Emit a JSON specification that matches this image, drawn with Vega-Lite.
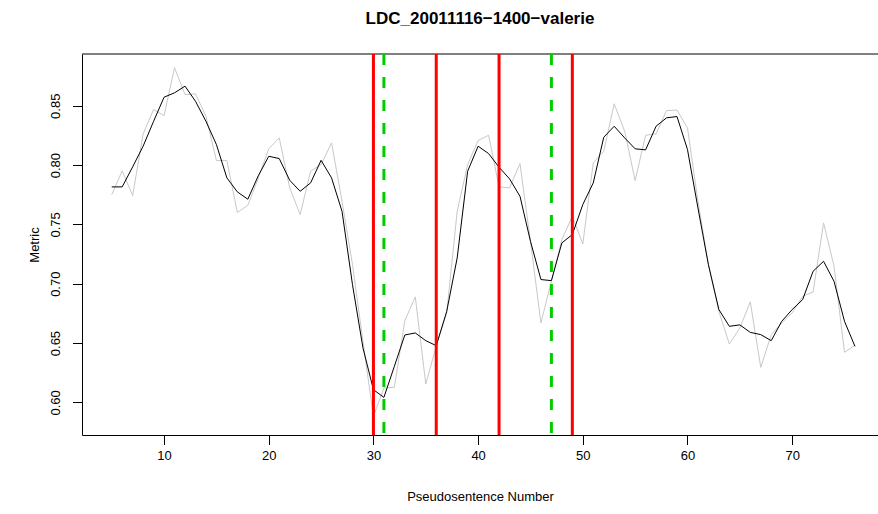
{
  "$schema": "https://vega.github.io/schema/vega-lite/v6.json",
  "width": 796,
  "height": 381,
  "autosize": "none",
  "padding": {"left": 82, "top": 54, "right": 0, "bottom": 79},
  "background": "white",
  "config": {
    "view": {"stroke": null},
    "font": "Liberation Sans",
    "axis": {"grid": false, "domainColor": "black", "tickColor": "black", "labelColor": "black", "titleColor": "black", "labelFont": "Liberation Sans", "titleFont": "Liberation Sans", "labelFontSize": 13, "titleFontSize": 13, "titleFontWeight": "normal", "tickSize": 9.5, "domainWidth": 1, "tickWidth": 1}
  },
  "title": {"text": "LDC_20011116−1400−valerie", "fontSize": 17, "fontWeight": "bold", "font": "Liberation Sans", "color": "black", "anchor": "middle", "baseline": "alphabetic", "offset": 12},
  "layer": [
    {
      "data": {"name": "series", "values": [
        {"n":5,"raw":0.7751,"smooth":0.7816},
        {"n":6,"raw":0.7951,"smooth":0.7816},
        {"n":7,"raw":0.7743,"smooth":0.7985},
        {"n":8,"raw":0.8263,"smooth":0.8159},
        {"n":9,"raw":0.8468,"smooth":0.8369},
        {"n":10,"raw":0.8417,"smooth":0.8572},
        {"n":11,"raw":0.8820,"smooth":0.8609},
        {"n":12,"raw":0.8594,"smooth":0.8665},
        {"n":13,"raw":0.8600,"smooth":0.8538},
        {"n":14,"raw":0.8412,"smooth":0.8369},
        {"n":15,"raw":0.8038,"smooth":0.8173},
        {"n":16,"raw":0.8038,"smooth":0.7892},
        {"n":17,"raw":0.7600,"smooth":0.7774},
        {"n":18,"raw":0.7661,"smooth":0.7712},
        {"n":19,"raw":0.7890,"smooth":0.7910},
        {"n":20,"raw":0.8137,"smooth":0.8074},
        {"n":21,"raw":0.8229,"smooth":0.8055},
        {"n":22,"raw":0.7808,"smooth":0.7872},
        {"n":23,"raw":0.7583,"smooth":0.7779},
        {"n":24,"raw":0.7948,"smooth":0.7850},
        {"n":25,"raw":0.8004,"smooth":0.8040},
        {"n":26,"raw":0.8187,"smooth":0.7892},
        {"n":27,"raw":0.7695,"smooth":0.7610},
        {"n":28,"raw":0.7161,"smooth":0.6992},
        {"n":29,"raw":0.6514,"smooth":0.6459},
        {"n":30,"raw":0.5882,"smooth":0.6107},
        {"n":31,"raw":0.6121,"smooth":0.6042},
        {"n":32,"raw":0.6127,"smooth":0.6304},
        {"n":33,"raw":0.6690,"smooth":0.6568},
        {"n":34,"raw":0.6889,"smooth":0.6585},
        {"n":35,"raw":0.6155,"smooth":0.6520},
        {"n":36,"raw":0.6472,"smooth":0.6478},
        {"n":37,"raw":0.6754,"smooth":0.6767},
        {"n":38,"raw":0.7610,"smooth":0.7217},
        {"n":39,"raw":0.8004,"smooth":0.7948},
        {"n":40,"raw":0.8207,"smooth":0.8159},
        {"n":41,"raw":0.8251,"smooth":0.8097},
        {"n":42,"raw":0.7816,"smooth":0.7982},
        {"n":43,"raw":0.7808,"smooth":0.7884},
        {"n":44,"raw":0.8013,"smooth":0.7737},
        {"n":45,"raw":0.7358,"smooth":0.7358},
        {"n":46,"raw":0.6669,"smooth":0.7035},
        {"n":47,"raw":0.7020,"smooth":0.7026},
        {"n":48,"raw":0.7372,"smooth":0.7344},
        {"n":49,"raw":0.7568,"smooth":0.7414},
        {"n":50,"raw":0.7335,"smooth":0.7667},
        {"n":51,"raw":0.8019,"smooth":0.7850},
        {"n":52,"raw":0.8116,"smooth":0.8234},
        {"n":53,"raw":0.8516,"smooth":0.8327},
        {"n":54,"raw":0.8285,"smooth":0.8229},
        {"n":55,"raw":0.7870,"smooth":0.8137},
        {"n":56,"raw":0.8251,"smooth":0.8128},
        {"n":57,"raw":0.8263,"smooth":0.8327},
        {"n":58,"raw":0.8460,"smooth":0.8398},
        {"n":59,"raw":0.8463,"smooth":0.8409},
        {"n":60,"raw":0.8314,"smooth":0.8131},
        {"n":61,"raw":0.7695,"smooth":0.7639},
        {"n":62,"raw":0.7161,"smooth":0.7160},
        {"n":63,"raw":0.6767,"smooth":0.6782},
        {"n":64,"raw":0.6492,"smooth":0.6641},
        {"n":65,"raw":0.6627,"smooth":0.6653},
        {"n":66,"raw":0.6847,"smooth":0.6590},
        {"n":67,"raw":0.6295,"smooth":0.6571},
        {"n":68,"raw":0.6571,"smooth":0.6520},
        {"n":69,"raw":0.6669,"smooth":0.6683},
        {"n":70,"raw":0.6754,"smooth":0.6782},
        {"n":71,"raw":0.6894,"smooth":0.6866},
        {"n":72,"raw":0.6931,"smooth":0.7105},
        {"n":73,"raw":0.7513,"smooth":0.7189},
        {"n":74,"raw":0.7147,"smooth":0.7020},
        {"n":75,"raw":0.6422,"smooth":0.6683},
        {"n":76,"raw":0.6481,"smooth":0.6472}
      ]},
      "layer": [
        {
          "mark": {"type": "line", "color": "#c8c8c8", "strokeWidth": 1},
          "encoding": {
            "x": {"field": "n", "type": "quantitative", "scale": {"domain": [2.16, 78.2], "nice": false, "zero": false},
              "axis": {"values": [10,20,30,40,50,60,70], "title": "Pseudosentence Number", "labelPadding": 5, "titlePadding": 28, "labelFlush": false}},
            "y": {"field": "raw", "type": "quantitative", "scale": {"domain": [0.5725, 0.8936], "nice": false, "zero": false},
              "axis": {"values": [0.60,0.65,0.70,0.75,0.80,0.85], "format": ".2f", "title": "Metric", "labelAngle": -90, "labelAlign": "center", "labelBaseline": "bottom", "labelPadding": 10, "titlePadding": 8.5, "labelFlush": false}}
          }
        },
        {
          "mark": {"type": "line", "color": "black", "strokeWidth": 1},
          "encoding": {
            "x": {"field": "n", "type": "quantitative"},
            "y": {"field": "smooth", "type": "quantitative"}
          }
        }
      ]
    },
    {
      "data": {"values": [{"top": 0.8936}]},
      "mark": {"type": "rule", "color": "black", "strokeWidth": 1},
      "encoding": {"y": {"field": "top", "type": "quantitative"}}
    },
    {
      "data": {"values": [{"n": 30}, {"n": 36}, {"n": 42}, {"n": 49}]},
      "mark": {"type": "rule", "color": "#ff0000", "strokeWidth": 3},
      "encoding": {"x": {"field": "n", "type": "quantitative"}}
    },
    {
      "data": {"values": [{"n": 31}, {"n": 47}]},
      "mark": {"type": "rule", "color": "#00cd00", "strokeWidth": 3, "strokeDash": [11, 12]},
      "encoding": {"x": {"field": "n", "type": "quantitative"}}
    }
  ]
}
